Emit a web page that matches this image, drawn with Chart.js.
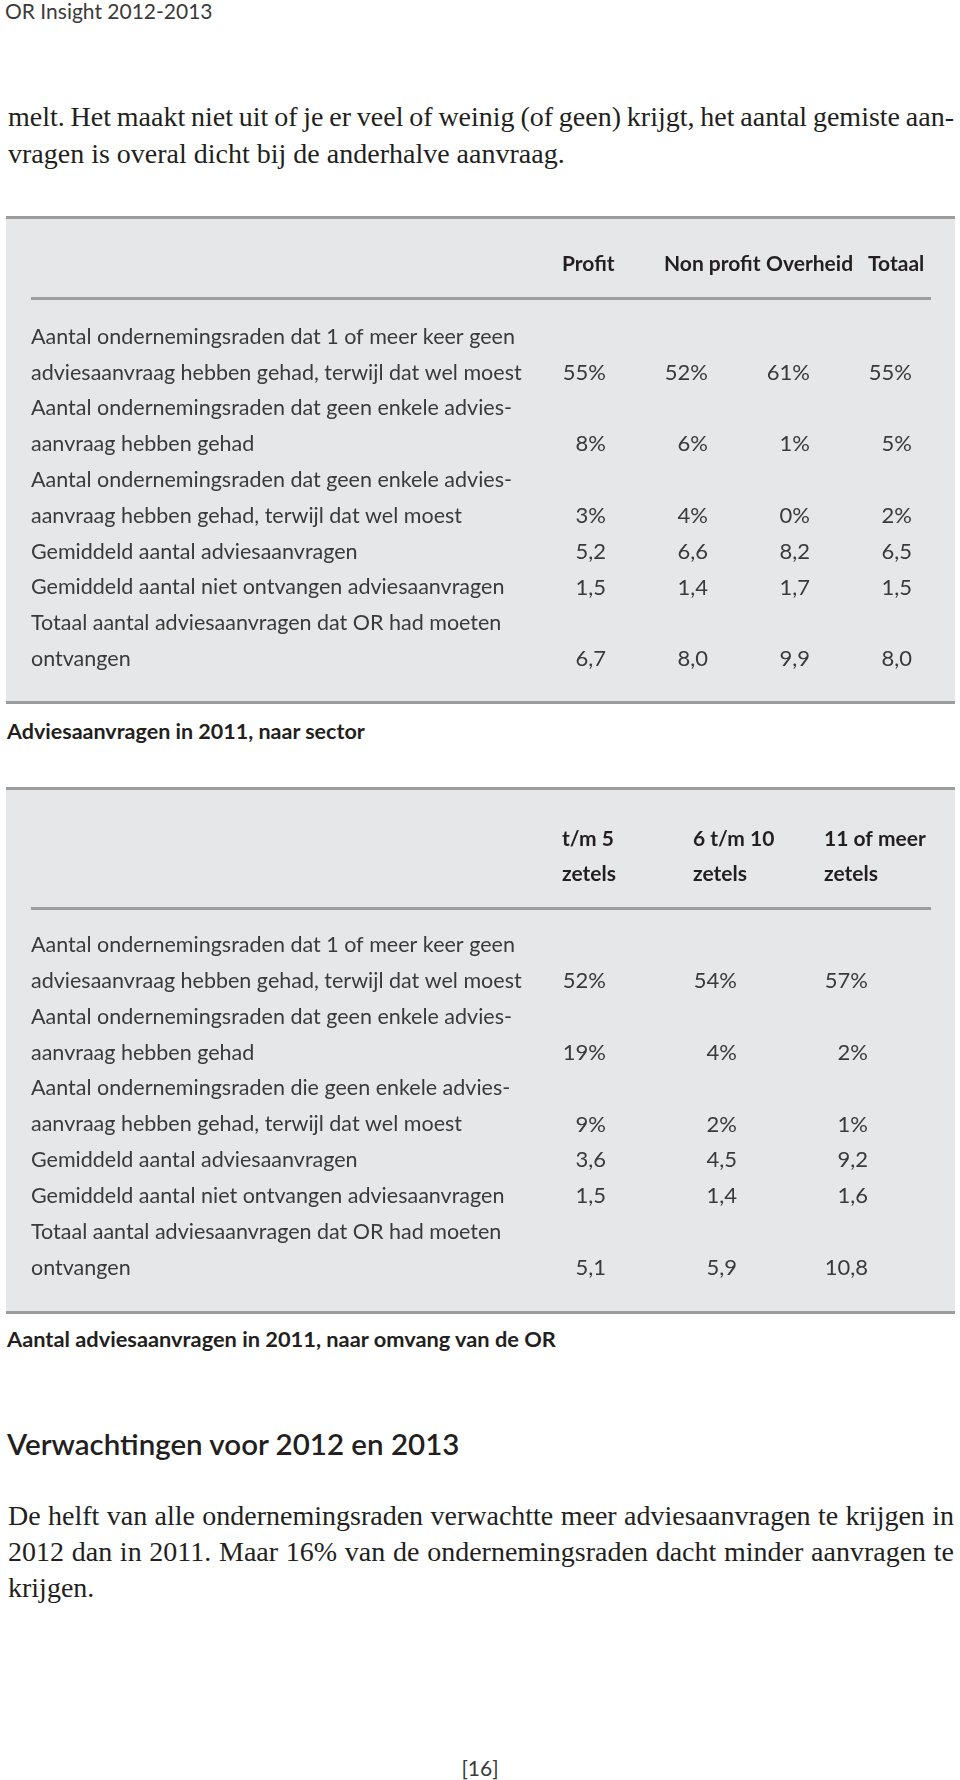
<!DOCTYPE html>
<html lang="nl">
<head>
<meta charset="utf-8">
<title>Adviesaanvragen in 2011</title>
<script src="https://cdn.jsdelivr.net/npm/chart.js@4.4.1/dist/chart.umd.min.js"></script>
<style>
  html, body { margin: 0; padding: 0; background: #fff; }
  body { width: 960px; height: 1780px; position: relative; overflow: hidden; color: #231f20; }
  .abs { position: absolute; white-space: nowrap; }
  .sans { font-family: Lato, 'Open Sans', sans-serif; }
  .serif { font-family: 'Liberation Serif', 'DejaVu Serif', serif; font-size: 28px; line-height: 36px; }
  .just { left: 8px; width: 946px; text-align: justify; text-align-last: justify; }
  .cap { font-weight: 700; font-size: 21.5px; line-height: 26px; left: 7px; color: #231f20; }
  canvas.tabel { position: absolute; left: 6px; }
</style>
</head>
<body>

<div class="abs sans" style="left:5px; top:0px; font-size:21px; line-height:22px; color:#3a3a3a;">OR Insight 2012-2013</div>

<div class="abs serif just" style="top:99px;">melt. Het maakt niet uit of je er veel of weinig (of geen) krijgt, het aantal gemiste aan-</div>
<div class="abs serif" style="left:8px; top:136px;">vragen is overal dicht bij de anderhalve aanvraag.</div>

<canvas id="sectorTable" class="tabel" width="949" height="488" style="top:216px;"></canvas>
<div class="abs sans cap" style="top:718px;">Adviesaanvragen in 2011, naar sector</div>

<canvas id="sizeTable" class="tabel" width="949" height="527" style="top:787px;"></canvas>
<div class="abs sans cap" style="top:1326px; font-size:21.8px;">Aantal adviesaanvragen in 2011, naar omvang van de OR</div>

<div class="abs sans" style="left:7px; top:1426px; font-size:29.5px; line-height:36px; font-weight:600; color:#231f20;">Verwachtingen voor 2012 en 2013</div>

<div class="abs serif just" style="top:1498px;">De helft van alle ondernemingsraden verwachtte meer adviesaanvragen te krijgen in</div>
<div class="abs serif just" style="top:1534px;">2012 dan in 2011. Maar 16% van de ondernemingsraden dacht minder aanvragen te</div>
<div class="abs serif" style="left:8px; top:1570px;">krijgen.</div>

<div class="abs sans" style="left:0; width:960px; text-align:center; top:1756px; font-size:21px; line-height:24px; color:#3a3a3a;">[16]</div>

<script>
// Tabel 1: naar sector
const sectorColumns = ['Profit', 'Non profit', 'Overheid', 'Totaal'];
const sectorRowLabels = [
    ['Aantal ondernemingsraden dat 1 of meer keer geen', 'adviesaanvraag hebben gehad, terwijl dat wel moest'],
    ['Aantal ondernemingsraden dat geen enkele advies-', 'aanvraag hebben gehad'],
    ['Aantal ondernemingsraden dat geen enkele advies-', 'aanvraag hebben gehad, terwijl dat wel moest'],
    ['Gemiddeld aantal adviesaanvragen'],
    ['Gemiddeld aantal niet ontvangen adviesaanvragen'],
    ['Totaal aantal adviesaanvragen dat OR had moeten', 'ontvangen']
];
const sectorProfit = [55, 8, 3, 5.2, 1.5, 6.7];
const sectorNonProfit = [52, 6, 4, 6.6, 1.4, 8.0];
const sectorOverheid = [61, 1, 0, 8.2, 1.7, 9.9];
const sectorTotaal = [55, 5, 2, 6.5, 1.5, 8.0];

// Tabel 2: naar omvang van de OR
const sizeColumns = [['t/m 5', 'zetels'], ['6 t/m 10', 'zetels'], ['11 of meer', 'zetels']];
const sizeRowLabels = [
    ['Aantal ondernemingsraden dat 1 of meer keer geen', 'adviesaanvraag hebben gehad, terwijl dat wel moest'],
    ['Aantal ondernemingsraden dat geen enkele advies-', 'aanvraag hebben gehad'],
    ['Aantal ondernemingsraden die geen enkele advies-', 'aanvraag hebben gehad, terwijl dat wel moest'],
    ['Gemiddeld aantal adviesaanvragen'],
    ['Gemiddeld aantal niet ontvangen adviesaanvragen'],
    ['Totaal aantal adviesaanvragen dat OR had moeten', 'ontvangen']
];
const sizeTot5 = [52, 19, 9, 3.6, 1.5, 5.1];
const size6tot10 = [54, 4, 2, 4.5, 1.4, 5.9];
const size11plus = [57, 2, 1, 9.2, 1.6, 10.8];

// eerste drie rijen zijn percentages, de rest gemiddelden
const rowIsPercent = [true, true, true, false, false, false];

const FONT = "Lato, 'Open Sans', sans-serif";
const TEXT_COLOR = '#3a3a3a';

function formatValue(v, pct) {
    return pct ? v + '%' : v.toFixed(1).replace('.', ',');
}

// uitgevulde regels iets krapper zetten als ze anders niet passen
function fitLine(el, maxW) {
    const probe = el.cloneNode(true);
    probe.style.cssText += ';visibility:hidden;width:auto;text-align:left;text-align-last:auto;';
    document.body.appendChild(probe);
    let ws = 0, ls = 0;
    while (probe.getBoundingClientRect().width > maxW && ws > -4) {
        ws -= 0.5;
        probe.style.wordSpacing = ws + 'px';
    }
    while (probe.getBoundingClientRect().width > maxW && ls > -1.5) {
        ls -= 0.05;
        probe.style.letterSpacing = ls + 'px';
    }
    el.style.wordSpacing = ws + 'px';
    el.style.letterSpacing = ls + 'px';
    probe.remove();
}
document.querySelectorAll('.just').forEach(el => fitLine(el, 940));

// achtergrond, randen, kolomkoppen, lijn onder de kop en de celwaarden
const tablePlugin = {
    id: 'tableCells',
    beforeDraw(chart, args, opts) {
        const { ctx, width, height } = chart;
        ctx.save();
        ctx.fillStyle = opts.background;
        ctx.fillRect(0, 0, width, height);
        ctx.fillStyle = opts.borderColor;
        ctx.fillRect(0, 0, width, 3);
        ctx.fillRect(0, height - 3, width, 3);
        ctx.fillRect(opts.ruleLeft, opts.ruleY - 1, opts.ruleRight - opts.ruleLeft, 3);
        ctx.restore();
    },
    afterDatasetsDraw(chart, args, opts) {
        const { ctx } = chart;
        const xScale = chart.scales.x;
        ctx.save();
        ctx.textBaseline = 'middle';

        // kolomkoppen
        ctx.font = 'bold 21px ' + FONT;
        ctx.fillStyle = '#231f20';
        ctx.textAlign = 'left';
        opts.columns.forEach((col, c) => {
            const parts = Array.isArray(col) ? col : [col];
            const x = xScale.getPixelForValue(c);
            parts.forEach((p, j) => ctx.fillText(p, x, opts.headY + j * opts.headGap));
        });

        // waarden
        const meta = chart.getDatasetMeta(0);
        const data = chart.data.datasets[0].data;
        ctx.font = '22px ' + FONT;
        ctx.fillStyle = TEXT_COLOR;
        ctx.textAlign = 'right';
        meta.data.forEach((pt, i) => {
            ctx.fillText(data[i].text, pt.x + opts.valueShift, pt.y);
        });
        ctx.restore();
    }
};

function buildTable(canvasId, columns, rowLabels, series, lay) {
    const lines = [];
    const rowLine = [];
    rowLabels.forEach(r => {
        r.forEach(l => lines.push(l));
        rowLine.push(lines.length - 1);
    });

    const points = [];
    series.forEach((values, c) => {
        values.forEach((v, r) => {
            points.push({ x: c, y: rowLine[r], text: formatValue(v, rowIsPercent[r]) });
        });
    });

    return new Chart(document.getElementById(canvasId), {
        type: 'scatter',
        data: {
            datasets: [{
                data: points,
                pointRadius: 0,
                pointHoverRadius: 0
            }]
        },
        options: {
            responsive: false,
            animation: false,
            events: [],
            layout: { padding: { left: 25, right: lay.padRight, top: lay.rowsTop, bottom: lay.padBottom } },
            plugins: {
                legend: { display: false },
                tooltip: { enabled: false },
                tableCells: {
                    background: '#e6e7e8',
                    borderColor: '#9d9d9d',
                    ruleLeft: 25,
                    ruleRight: 925,
                    ruleY: lay.ruleY,
                    columns: columns,
                    headY: lay.headY,
                    headGap: lay.headGap,
                    valueShift: 44
                }
            },
            scales: {
                x: {
                    type: 'linear',
                    display: false,
                    min: 0,
                    max: columns.length - 1
                },
                y: {
                    type: 'linear',
                    reverse: true,
                    min: 0,
                    max: lines.length - 1,
                    grid: { display: false, drawTicks: false },
                    border: { display: false },
                    afterFit: s => { s.width = 531; },
                    ticks: {
                        stepSize: 1,
                        autoSkip: false,
                        crossAlign: 'far',
                        color: TEXT_COLOR,
                        font: { family: FONT, size: 21.5 },
                        callback: v => lines[v]
                    }
                }
            }
        },
        plugins: [tablePlugin]
    });
}

buildTable('sectorTable', sectorColumns, sectorRowLabels,
    [sectorProfit, sectorNonProfit, sectorOverheid, sectorTotaal],
    { rowsTop: 121, ruleY: 82, padRight: 87, padBottom: 45, headY: 48, headGap: 35 });

buildTable('sizeTable', sizeColumns, sizeRowLabels,
    [sizeTot5, size6tot10, size11plus],
    { rowsTop: 158, ruleY: 121, padRight: 131, padBottom: 46, headY: 52, headGap: 35 });
</script>
</body>
</html>
